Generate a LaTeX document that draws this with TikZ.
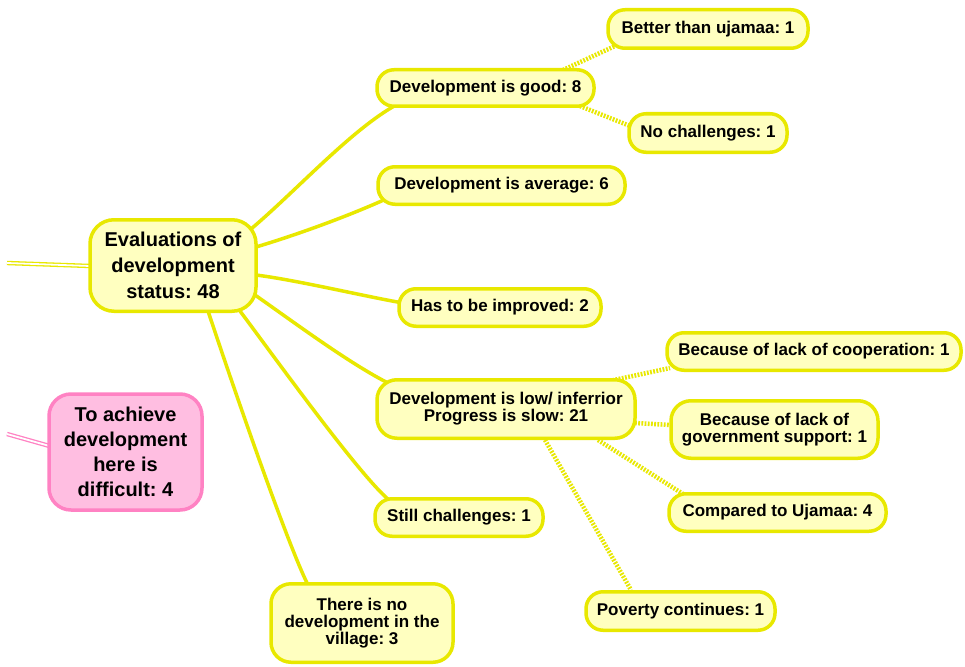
\documentclass[tikz,border=0pt]{standalone}
\usepackage{fontspec}
\setmainfont{Liberation Sans}
\frenchspacing
\usetikzlibrary{backgrounds}
\definecolor{ylwline}{RGB}{232,232,0}
\definecolor{ylwfill}{RGB}{255,255,192}
\definecolor{pinkline}{RGB}{255,130,195}
\definecolor{pinkfill}{RGB}{255,190,225}
\tikzset{
  ybox/.style={draw=ylwline, fill=ylwfill, line width=3.5pt, rounded corners=17pt,
    align=center, inner sep=0pt, font=\bfseries\fontsize{17}{17}\selectfont},
  bigbox/.style={ybox, rounded corners=24pt, font=\bfseries\fontsize{20}{26}\selectfont},
  pinkbox/.style={bigbox, draw=pinkline, fill=pinkfill, rounded corners=22pt,
    font=\bfseries\fontsize{20}{25}\selectfont},
  branch/.style={draw=ylwline, line width=3.5pt},
  twig/.style={draw=ylwline, line width=4.5pt, dash pattern=on 1.8pt off 1.4pt},
  yduo/.style={draw=ylwline, line width=1.3pt, double=white, double distance=1.8pt},
  pduo/.style={draw=pinkline, line width=1.3pt, double=white, double distance=1.8pt},
}
\begin{document}
\begin{tikzpicture}[x=1pt,y=-1pt]
\useasboundingbox (0,0) rectangle (965,666);
\node[bigbox, minimum width=166pt, minimum height=91.5pt, text depth=0pt] (main) at (173,265.5) {Evaluations of\\development\\status: 48};
\node[pinkbox, minimum width=153pt, minimum height=116pt] (pink) at (125.5,452) {To achieve\\development\\here is\\difficult: 4};
\node[ybox, minimum width=217pt, minimum height=36.5pt] (good) at (485.5,88) {Development is good: 8};
\node[ybox, minimum width=247pt, minimum height=37.5pt] (avg) at (501.5,185.5) {Development is average: 6};
\node[ybox, minimum width=202pt, minimum height=37.5pt] (impr) at (500,307.5) {Has to be improved: 2};
\node[ybox, minimum width=258pt, minimum height=58.5pt, rounded corners=20pt] (low) at (506,409) {Development is low/ inferrior\\Progress is slow: 21};
\node[ybox, minimum width=168pt, minimum height=37.5pt] (still) at (459,517.5) {Still challenges: 1};
\node[ybox, minimum width=182pt, minimum height=78.5pt, rounded corners=20pt] (nodev) at (362,623) {There is no\\development in the\\village: 3};
\node[ybox, minimum width=200pt, minimum height=38.5pt] (better) at (708,29) {Better than ujamaa: 1};
\node[ybox, minimum width=158pt, minimum height=38.5pt] (nochal) at (708,133) {No challenges: 1};
\node[ybox, minimum width=294pt, minimum height=37.5pt] (coop) at (814,351.5) {Because of lack of cooperation: 1};
\node[ybox, minimum width=207pt, minimum height=57.5pt, rounded corners=20pt] (gov) at (774.5,429.5) {Because of lack of\\government support: 1};
\node[ybox, minimum width=217pt, minimum height=37.5pt] (comp) at (777.5,512.5) {Compared to Ujamaa: 4};
\node[ybox, minimum width=189pt, minimum height=38.5pt] (pov) at (680.5,611) {Poverty continues: 1};
\coordinate (lefty) at (7,263);
\coordinate (leftp) at (7,434);
\begin{scope}[on background layer]
\fill[white] (0,0) rectangle (965,666);
\draw[yduo] (lefty) -- ([shift={(-83,0.5)}]main.center);
\draw[pduo] (leftp) -- ([shift={(-76,-6)}]pink.center);
\draw[branch] ([shift={(78,-36.5)}]main.center) .. controls +(45,-38) and +(-45,25) .. ([shift={(-89.5,17)}]good.center);
\draw[branch] ([shift={(83,-18.5)}]main.center) .. controls +(40,-12) and +(-40,18) .. ([shift={(-115.5,13.5)}]avg.center);
\draw[branch] ([shift={(83,9.5)}]main.center) .. controls +(40,5) and +(-40,-7) .. ([shift={(-97,-4.5)}]impr.center);
\draw[branch] ([shift={(82,29.5)}]main.center) .. controls +(40,28) and +(-40,-20) .. ([shift={(-116,-25)}]low.center);
\draw[branch] ([shift={(67,45.5)}]main.center) .. controls +(30,40) and +(-30,-25) .. ([shift={(-70,-17.5)}]still.center);
\draw[branch] ([shift={(35,45.5)}]main.center) .. controls +(30,90) and +(-20,-40) .. ([shift={(-54,-38)}]nodev.center);
\draw[twig] ([shift={(77.5,-18)}]good.center) -- ([shift={(-93,17)}]better.center);
\draw[twig] ([shift={(94.5,18)}]good.center) -- ([shift={(-78,-7)}]nochal.center);
\draw[twig] ([shift={(94,-26)}]low.center) -- ([shift={(-144,16.5)}]coop.center);
\draw[twig] ([shift={(129,14)}]low.center) -- ([shift={(-103.5,-4.5)}]gov.center);
\draw[twig] ([shift={(92,31)}]low.center) -- ([shift={(-94.5,-18.5)}]comp.center);
\draw[twig] ([shift={(39,31)}]low.center) -- ([shift={(-49.5,-21)}]pov.center);
\end{scope}
\end{tikzpicture}
\end{document}
